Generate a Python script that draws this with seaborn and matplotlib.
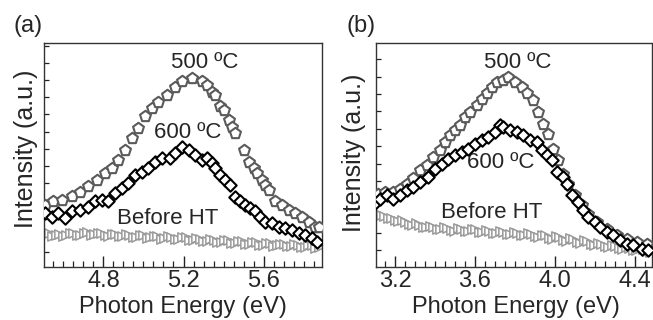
import numpy as np
import pandas as pd
import matplotlib
matplotlib.use("Agg")
import matplotlib.pyplot as plt
from matplotlib.ticker import MultipleLocator, NullFormatter
import seaborn as sns

sns.set_theme(style="white")
plt.rcParams['font.family'] = ['Liberation Sans', 'DejaVu Sans']

# ---------------- Panel (a) data ----------------
a500_x = [4.508, 4.55, 4.592, 4.642, 4.683, 4.725, 4.767, 4.808, 4.842, 4.875, 4.908, 4.942, 4.975,
          5.008, 5.042, 5.075, 5.117, 5.158, 5.192, 5.242, 5.292, 5.317, 5.342, 5.358, 5.383, 5.40,
          5.425, 5.442, 5.458, 5.50, 5.525, 5.55, 5.567, 5.592, 5.608, 5.625, 5.658, 5.692, 5.725,
          5.758, 5.792, 5.825, 5.858, 5.875]
a500_y = [1.36, 1.46, 1.51, 1.62, 1.75, 1.90, 2.09, 2.29, 2.43, 2.67, 2.97, 3.31, 3.60,
          3.94, 4.18, 4.37, 4.57, 4.81, 4.96, 5.06, 4.96, 4.86, 4.66, 4.57, 4.23, 4.13,
          3.84, 3.64, 3.45, 2.97, 2.62, 2.43, 2.29, 2.09, 1.94, 1.80, 1.46, 1.36, 1.22,
          1.12, 1.02, 0.87, 0.73, 0.73]

a600_x = [4.508, 4.542, 4.575, 4.608, 4.642, 4.683, 4.725, 4.758, 4.792, 4.825, 4.858, 4.892, 4.925,
          4.958, 4.992, 5.025, 5.058, 5.092, 5.133, 5.158, 5.192, 5.225, 5.258, 5.292, 5.317, 5.342,
          5.358, 5.383, 5.408, 5.433, 5.458, 5.483, 5.508, 5.533, 5.558, 5.583, 5.608, 5.642, 5.675,
          5.708, 5.742, 5.775, 5.808, 5.842, 5.867]
a600_y = [1.12, 1.02, 1.12, 0.97, 1.17, 1.22, 1.31, 1.46, 1.51, 1.46, 1.70, 1.85, 1.99,
          2.24, 2.33, 2.43, 2.62, 2.72, 2.72, 2.87, 3.04, 2.97, 2.82, 2.67, 2.72, 2.58,
          2.43, 2.24, 2.09, 1.94, 1.60, 1.46, 1.36, 1.27, 1.17, 1.02, 0.87, 0.83, 0.73,
          0.68, 0.63, 0.54, 0.49, 0.39, 0.29]

a_ht_x = [4.510, 4.528, 4.545, 4.563, 4.580, 4.598, 4.615, 4.633, 4.650, 4.668,
          4.685, 4.703, 4.720, 4.738, 4.755, 4.773, 4.790, 4.808, 4.825, 4.843,
          4.860, 4.878, 4.895, 4.913, 4.930, 4.948, 4.965, 4.983, 5.000, 5.018,
          5.035, 5.053, 5.070, 5.088, 5.105, 5.123, 5.140, 5.158, 5.175, 5.193,
          5.210, 5.228, 5.245, 5.263, 5.280, 5.298, 5.315, 5.333, 5.350, 5.368,
          5.385, 5.403, 5.420, 5.438, 5.455, 5.473, 5.490, 5.508, 5.525, 5.543,
          5.560, 5.578, 5.595, 5.613, 5.630, 5.648, 5.665, 5.683, 5.700, 5.718,
          5.735, 5.753, 5.770, 5.788, 5.805, 5.823, 5.840, 5.858, 5.875]
a_ht_y = [0.50, 0.55, 0.44, 0.49, 0.52, 0.45, 0.47, 0.54, 0.53, 0.47,
          0.49, 0.55, 0.56, 0.48, 0.50, 0.55, 0.53, 0.48, 0.46, 0.52,
          0.51, 0.44, 0.45, 0.50, 0.49, 0.43, 0.43, 0.48, 0.47, 0.40,
          0.41, 0.46, 0.45, 0.38, 0.39, 0.44, 0.43, 0.37, 0.36, 0.42,
          0.41, 0.34, 0.34, 0.39, 0.38, 0.31, 0.31, 0.36, 0.35, 0.28,
          0.28, 0.34, 0.33, 0.26, 0.26, 0.31, 0.30, 0.23, 0.23, 0.28,
          0.27, 0.20, 0.20, 0.26, 0.25, 0.17, 0.18, 0.23, 0.22, 0.15,
          0.15, 0.21, 0.20, 0.13, 0.13, 0.19, 0.18, 0.11, 0.12]

# ---------------- Panel (b) data ----------------
b500_x = [3.117, 3.15, 3.192, 3.225, 3.258, 3.292, 3.325, 3.358, 3.392, 3.425, 3.45, 3.475, 3.50,
          3.525, 3.55, 3.575, 3.608, 3.633, 3.658, 3.683, 3.708, 3.742, 3.767, 3.80, 3.833, 3.858,
          3.892, 3.917, 3.942, 3.967, 3.988, 4.017, 4.042, 4.067, 4.10, 4.133, 4.167, 4.208, 4.258,
          4.308, 4.358, 4.408, 4.458]
b500_y = [1.63, 1.68, 1.68, 1.78, 1.92, 2.07, 2.31, 2.45, 2.69, 2.88, 3.12, 3.31, 3.46,
          3.60, 3.84, 3.98, 4.18, 4.37, 4.52, 4.71, 4.85, 4.90, 4.99, 4.85, 4.71, 4.52,
          4.32, 3.98, 3.65, 3.36, 2.93, 2.59, 2.21, 1.92, 1.59, 1.30, 1.06, 0.81, 0.62,
          0.43, 0.34, 0.24, 0.19]

b600_x = [3.10, 3.125, 3.158, 3.192, 3.225, 3.258, 3.292, 3.325, 3.367, 3.40, 3.433, 3.467, 3.50,
          3.533, 3.567, 3.60, 3.633, 3.667, 3.70, 3.725, 3.742, 3.775, 3.808, 3.842, 3.875, 3.908,
          3.933, 3.958, 3.983, 4.008, 4.042, 4.058, 4.083, 4.117, 4.142, 4.167, 4.20, 4.225, 4.258,
          4.292, 4.325, 4.358, 4.392, 4.433, 4.467]
b600_y = [1.35, 1.49, 1.59, 1.49, 1.59, 1.73, 1.82, 1.97, 2.12, 2.35, 2.50, 2.64, 2.74,
          2.83, 2.93, 3.07, 3.17, 3.26, 3.41, 3.60, 3.55, 3.46, 3.41, 3.31, 3.17, 3.12,
          2.88, 2.74, 2.59, 2.26, 2.12, 1.92, 1.59, 1.40, 1.15, 0.96, 0.81, 0.67, 0.53,
          0.43, 0.29, 0.19, 0.14, 0.05, 0.0]

b_ht_x = [3.110, 3.128, 3.145, 3.163, 3.180, 3.198, 3.215, 3.233, 3.250, 3.268,
          3.285, 3.303, 3.320, 3.338, 3.355, 3.373, 3.390, 3.408, 3.425, 3.443,
          3.460, 3.478, 3.495, 3.513, 3.530, 3.548, 3.565, 3.583, 3.600, 3.618,
          3.635, 3.653, 3.670, 3.688, 3.705, 3.723, 3.740, 3.758, 3.775, 3.793,
          3.810, 3.828, 3.845, 3.863, 3.880, 3.898, 3.915, 3.933, 3.950, 3.968,
          3.985, 4.003, 4.020, 4.038, 4.055, 4.073, 4.090, 4.108, 4.125, 4.143,
          4.160, 4.178, 4.195, 4.213, 4.230, 4.248, 4.265, 4.283, 4.300, 4.318,
          4.335, 4.353, 4.370, 4.388, 4.405, 4.423, 4.440, 4.458, 4.475]
b_ht_y = [1.08, 1.02, 0.98, 0.93, 0.94, 0.87, 0.84, 0.86, 0.82, 0.76,
          0.74, 0.78, 0.74, 0.68, 0.66, 0.71, 0.68, 0.62, 0.60, 0.66,
          0.64, 0.58, 0.57, 0.63, 0.62, 0.56, 0.55, 0.61, 0.60, 0.54,
          0.53, 0.58, 0.57, 0.51, 0.50, 0.56, 0.54, 0.48, 0.47, 0.53,
          0.51, 0.45, 0.43, 0.49, 0.47, 0.41, 0.39, 0.45, 0.43, 0.36,
          0.34, 0.40, 0.38, 0.31, 0.28, 0.35, 0.32, 0.25, 0.22, 0.29,
          0.26, 0.18, 0.15, 0.22, 0.19, 0.12, 0.09, 0.16, 0.13, 0.07,
          0.04, 0.10, 0.08, 0.02, 0.00, 0.06, 0.03, -0.02, -0.04]

labels_temp = ["500 \u00baC", "600 \u00baC", "Before HT"]
panel_letters = ["(a)", "(b)"]
x_label = "Photon Energy (eV)"
y_label = "Intensity (a.u.)"

GRAY500 = "#5a5a5a"
BLACK = "#000000"
GRAYHT = "#9a9a9a"

fig = plt.figure(figsize=(6.53, 3.20), dpi=100)
A_L, A_R = 44, 322
B_L, B_R = 376, 651.5
TOP, BOT = 43, 267
axA = fig.add_axes([A_L/653, 1-BOT/320, (A_R-A_L)/653, (BOT-TOP)/320])
axB = fig.add_axes([B_L/653, 1-BOT/320, (B_R-B_L)/653, (BOT-TOP)/320])


def draw(ax, x5, y5, x6, y6, xh, yh):
    sns.scatterplot(x=xh, y=yh, ax=ax, marker='>', s=45, color='white',
                    edgecolor=GRAYHT, linewidth=1.1, zorder=2)
    sns.scatterplot(x=x5, y=y5, ax=ax, marker='p', s=68, color='white',
                    edgecolor=GRAY500, linewidth=1.5, zorder=3)
    sns.scatterplot(x=x6, y=y6, ax=ax, marker='D', s=40, color='white',
                    edgecolor=BLACK, linewidth=1.5, zorder=4)


draw(axA, a500_x, a500_y, a600_x, a600_y, a_ht_x, a_ht_y)
draw(axB, b500_x, b500_y, b600_x, b600_y, b_ht_x, b_ht_y)

axA.set_xlim(4.503, 5.892)
axA.set_ylim(-0.45, 6.08)
axB.set_xlim(3.105, 4.483)
axB.set_ylim(-0.48, 5.97)

for ax in (axA, axB):
    ax.xaxis.set_major_locator(MultipleLocator(0.4))
    ax.xaxis.set_minor_locator(MultipleLocator(0.05))
    ax.yaxis.set_major_locator(MultipleLocator(1))
    ax.yaxis.set_minor_locator(MultipleLocator(0.5))
    ax.yaxis.set_major_formatter(NullFormatter())
    ax.tick_params(axis='x', which='major', direction='in', length=8, width=1.0,
                   color='#222222', labelsize=17, pad=2, bottom=True, top=False)
    ax.tick_params(axis='x', which='minor', direction='in', length=4, width=0.9,
                   color='#222222', bottom=True, top=False)
    ax.tick_params(axis='y', which='both', direction='in', length=3.5, width=0.9,
                   color='#222222', left=True, right=False)
    for sp in ax.spines.values():
        sp.set_color('#333333')
        sp.set_linewidth(1.0)
    ax.set_xlabel(x_label, fontsize=17)
    ax.set_ylabel(y_label, fontsize=18)
    ax.grid(False)

axA.set_xticks([4.8, 5.2, 5.6])
axA.set_xticklabels(["4.8", "5.2", "5.6"])
axB.set_xticks([3.2, 3.6, 4.0, 4.4])
axB.set_xticklabels(["3.2", "3.6", "4.0", "4.4"])

# label positions (axes fraction)
axA.xaxis.set_label_coords((183 - A_L) / (A_R - A_L), (BOT - 296) / (BOT - TOP))
axB.xaxis.set_label_coords((516 - B_L) / (B_R - B_L), (BOT - 296) / (BOT - TOP))
axA.yaxis.set_label_coords((38 - A_L) / (A_R - A_L), (BOT - 149) / (BOT - TOP))
axB.yaxis.set_label_coords((366 - B_L) / (B_R - B_L), (BOT - 153) / (BOT - TOP))


def afrac(px, py, left, right):
    return ((px - left) / (right - left), (BOT - py) / (BOT - TOP))

for (txt, px, py) in [(labels_temp[0], 205, 62), (labels_temp[1], 188, 133), (labels_temp[2], 168, 218)]:
    fx, fy = afrac(px, py, A_L, A_R)
    axA.text(fx, fy, txt, transform=axA.transAxes, ha='center', va='center', fontsize=16)
for (txt, px, py) in [(labels_temp[0], 518, 62), (labels_temp[1], 501, 163), (labels_temp[2], 492, 213)]:
    fx, fy = afrac(px, py, B_L, B_R)
    axB.text(fx, fy, txt, transform=axB.transAxes, ha='center', va='center', fontsize=16)

fig.text(28/653, 1-26/320, panel_letters[0], ha='center', va='center', fontsize=17)
fig.text(361/653, 1-26/320, panel_letters[1], ha='center', va='center', fontsize=17)

fig.savefig("out.png", dpi=100)
